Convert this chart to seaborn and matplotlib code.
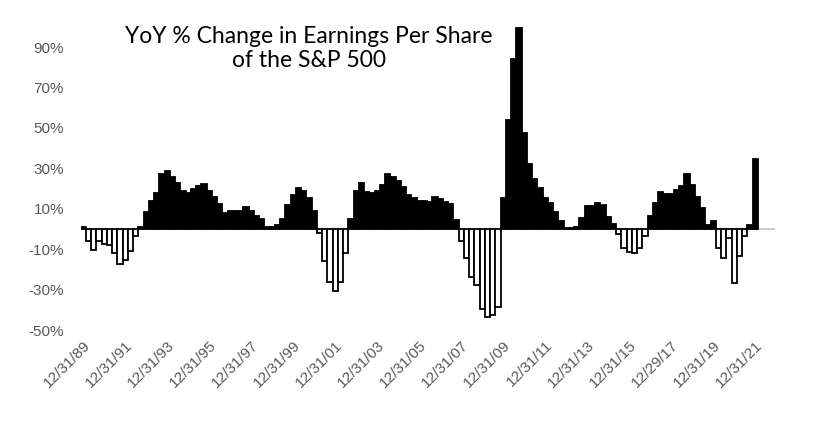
import matplotlib
matplotlib.use("Agg")
import matplotlib.pyplot as plt
import seaborn as sns
import pandas as pd
import numpy as np

# ---- data (YoY % change in S&P 500 EPS, quarterly, Q4 1989 onward) ----
eps_yoy = [
    1.0, -6.1, -10.5, -6.1, -7.2, -7.7, -11.9, -17.1, -15.5, -11.0,
    -3.6, 1.0, 8.2, 14.0, 18.0, 27.3, 28.5, 25.7, 23.0, 18.6,
    18.0, 19.6, 21.2, 22.3, 19.0, 16.0, 12.6, 7.9, 8.7, 9.0,
    8.7, 11.0, 8.7, 6.5, 5.0, 1.1, 1.1, 2.0, 4.9, 12.0,
    17.0, 20.1, 19.0, 15.1, 8.8, -2.1, -15.6, -26.3, -30.9, -26.3,
    -11.9, 4.9, 18.6, 22.6, 18.2, 17.7, 18.9, 22.0, 27.0, 25.5,
    24.0, 20.6, 16.6, 15.3, 13.7, 13.8, 13.5, 15.8, 15.0, 13.5,
    12.3, 4.4, -6.0, -14.3, -23.9, -27.5, -39.5, -43.6, -42.8, -38.7,
    15.1, 53.8, 84.3, 99.6, 47.7, 32.0, 25.0, 20.1, 15.5, 12.8,
    8.6, 3.8, 0.4, 0.5, 0.8, 5.3, 11.2, 11.2, 12.8, 11.9,
    5.8, 2.5, -2.5, -9.5, -11.5, -11.7, -9.3, -3.4, 6.2, 12.8,
    18.2, 17.4, 17.4, 19.4, 21.4, 27.0, 21.6, 16.0, 10.5, 2.2,
    4.2, -9.5, -14.2, -4.5, -26.7, -13.3, -3.7, 2.0, 34.9,
]
tick_labels = ["12/31/89", "12/31/91", "12/31/93", "12/31/95", "12/31/97",
               "12/31/99", "12/31/01", "12/31/03", "12/31/05", "12/31/07",
               "12/31/09", "12/31/11", "12/31/13", "12/31/15", "12/29/17",
               "12/31/19", "12/31/21"]
y_ticks = [-50, -30, -10, 10, 30, 50, 70, 90]
title = "YoY % Change in Earnings Per Share\nof the S&P 500"

quarters = [f"Q{i}" for i in range(len(eps_yoy))]
df = pd.DataFrame({"quarter": quarters, "yoy": eps_yoy})
df["sign"] = np.where(df["yoy"] >= 0, "pos", "neg")

sns.set_style("white")
plt.rcParams["font.family"] = ["Liberation Sans", "DejaVu Sans"]

fig = plt.figure(figsize=(8.26, 4.25), dpi=100)
ax = fig.add_axes([0.0977, 0.2235, 0.8403, 0.713])

ax.axhline(0, color="#c8c8c8", lw=1.3, zorder=0)
sns.barplot(data=df, x="quarter", y="yoy", hue="sign",
            palette={"pos": "black", "neg": "white"}, dodge=False,
            width=1.0, edgecolor="black", linewidth=1.3, legend=False,
            ax=ax, zorder=2)

ax.set_ylim(-50, 100)
ax.set_xlim(-0.5, 131.7)
ax.set_yticks(y_ticks)
ax.set_yticklabels([f"{v}%" for v in y_ticks], color="#595959", fontsize=11)
ax.set_xticks(range(0, len(eps_yoy), 8))
ax.set_xticklabels(tick_labels, rotation=45, ha="right", rotation_mode="anchor",
                   color="#595959", fontsize=11)
ax.tick_params(axis="y", length=0, pad=12)
ax.tick_params(axis="x", length=0, pad=6)
ax.set_xlabel("")
ax.set_ylabel("")
for s in ax.spines.values():
    s.set_visible(False)

fig.text(0.374, 0.886, title, ha="center", va="center", fontsize=16.5,
         family=["Lato", "DejaVu Sans"], color="black", linespacing=1.2)

fig.savefig("out.png", dpi=100, facecolor="white")
